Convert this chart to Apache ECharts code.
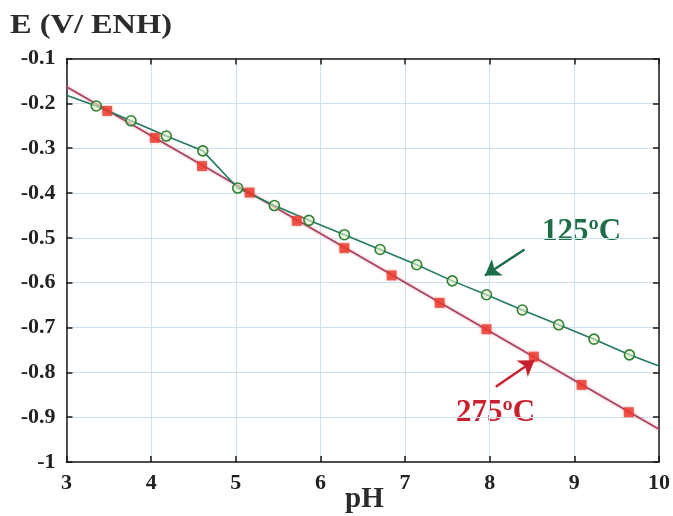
<!DOCTYPE html>
<html>
<head>
<meta charset="utf-8">
<script src="https://cdn.jsdelivr.net/npm/echarts@6/dist/echarts.min.js"></script>
<style>
html,body{margin:0;padding:0;background:#fff;}
#chart{width:673px;height:516px;}
</style>
</head>
<body>
<div id="chart"></div>
<script>
// pH tick labels and E tick range
const xTicks = [3, 4, 5, 6, 7, 8, 9, 10];
const yMin = -1, yMax = -0.1, yStep = 0.1;

// 125ºC series (hollow circles, joined by a line)
const ph125 = [3.352, 3.762, 4.179, 4.610, 5.023, 5.456, 5.864, 6.283, 6.705, 7.138, 7.558, 7.962, 8.385, 8.815, 9.232, 9.651];
const e125  = [-0.206, -0.239, -0.273, -0.306, -0.389, -0.428, -0.461, -0.493, -0.526, -0.560, -0.596, -0.627, -0.661, -0.694, -0.726, -0.761];
// 125ºC line ends at the plot edges
const ph125Ends = [3, 10];
const e125Ends  = [-0.182, -0.786];

// 275ºC series (filled squares) and its straight line
const ph275 = [3.481, 4.043, 4.601, 5.163, 5.721, 6.283, 6.841, 7.408, 7.962, 8.522, 9.085, 9.643];
const e275  = [-0.217, -0.277, -0.340, -0.399, -0.462, -0.523, -0.584, -0.645, -0.704, -0.765, -0.828, -0.889];
const ph275Line = [3, 10];
const e275Line  = [-0.163, -0.927];

// annotation arrows (start -> end, data units)
const arrow125 = [[8.411, -0.526], [7.943, -0.584]];
const arrow275 = [[8.072, -0.832], [8.529, -0.773]];

const label125 = '125ºC';
const label275 = '275ºC';
const yTitle = 'E (V/ ENH)';
const xTitle = 'pH';

const GREEN = '#1d6e48';
const RED = '#c8202e';
const FONT = '"Liberation Serif", "Times New Roman", serif';

const greenLineData = [[ph125Ends[0], e125Ends[0]]]
  .concat(ph125.map((x, i) => [x, e125[i]]))
  .concat([[ph125Ends[1], e125Ends[1]]])
  .map((p, i, arr) => (i === 0 || i === arr.length - 1) ? { value: p, symbol: 'none' } : { value: p });

const redPoints = ph275.map((x, i) => [x, e275[i]]);
const redLine = ph275Line.map((x, i) => [x, e275Line[i]]);

const chart = echarts.init(document.getElementById('chart'), null, { renderer: 'canvas' });

const labelStyle = { color: '#222', fontFamily: FONT, fontWeight: 'bold', fontSize: 22 };
const frame = { show: true, onZero: false, lineStyle: { color: '#1a1a1a', width: 1.5 } };
const gridLine = { show: true, lineStyle: { color: '#cfe1ee', width: 1 } };
const tick = { show: true, inside: true, length: 6, lineStyle: { color: '#1a1a1a', width: 1.5 } };
const yFmt = v => Math.abs(v + 1) < 1e-9 ? '-1' : (Math.round(v * 10) / 10).toFixed(1);

chart.setOption({
  animation: false,
  backgroundColor: '#fff',
  grid: { left: 66.5, right: 8, top: 58.5, bottom: 54 },
  xAxis: [
    { type: 'value', position: 'bottom', min: xTicks[0], max: xTicks[xTicks.length - 1], interval: 1,
      axisLine: frame, axisTick: tick,
      axisLabel: Object.assign({ margin: 10, formatter: v => String(v) }, labelStyle),
      splitLine: gridLine },
    { type: 'value', position: 'top', min: xTicks[0], max: xTicks[xTicks.length - 1], interval: 1,
      axisLine: frame, axisTick: tick,
      axisLabel: { show: false }, splitLine: { show: false } }
  ],
  yAxis: [
    { type: 'value', position: 'left', min: yMin, max: yMax, interval: yStep,
      axisLine: frame, axisTick: tick,
      axisLabel: Object.assign({ margin: 11, formatter: yFmt }, labelStyle),
      splitLine: gridLine },
    { type: 'value', position: 'right', min: yMin, max: yMax, interval: yStep,
      axisLine: frame, axisTick: tick,
      axisLabel: { show: false }, splitLine: { show: false } }
  ],
  series: [
    { name: '125', type: 'line', data: greenLineData, xAxisIndex: 0, yAxisIndex: 0,
      symbol: 'circle', symbolSize: 10, showAllSymbol: true,
      lineStyle: { color: '#1f7a5e', width: 1.6 },
      itemStyle: { color: 'rgba(225,240,200,0.6)', borderColor: '#2f7f35', borderWidth: 1.6 },
      z: 3,
      markLine: { silent: true, symbol: ['none', 'arrow'], symbolSize: 15,
        label: { show: false },
        lineStyle: { color: GREEN, width: 2.5, type: 'solid' },
        data: [[{ coord: arrow125[0] }, { coord: arrow125[1] }]] } },
    { name: '275line', type: 'line', data: redLine, symbol: 'none',
      lineStyle: { color: '#a8405c', width: 1.6, shadowColor: 'rgba(230,120,140,0.7)', shadowBlur: 3 },
      z: 2,
      markLine: { silent: true, symbol: ['none', 'arrow'], symbolSize: 15,
        label: { show: false },
        lineStyle: { color: RED, width: 2.5, type: 'solid' },
        data: [[{ coord: arrow275[0] }, { coord: arrow275[1] }]] } },
    { name: '275', type: 'scatter', data: redPoints, symbol: 'rect', symbolSize: 10,
      itemStyle: { color: '#e8372c', shadowColor: 'rgba(240,90,70,0.6)', shadowBlur: 3 }, z: 4 }
  ],
  graphic: [
    { type: 'text', left: 10, top: 13, scaleX: 1.2, originX: 0,
      style: { text: yTitle, fill: '#2b2b2b', font: 'bold 27px ' + FONT } },
    { type: 'text', left: 345, top: 485,
      style: { text: xTitle, fill: '#2b2b2b', font: 'bold 29px ' + FONT } },
    { type: 'text', left: 542, top: 216,
      style: { text: label125, fill: GREEN, font: 'bold 31px ' + FONT } },
    { type: 'text', left: 456, top: 397,
      style: { text: label275, fill: RED, font: 'bold 31px ' + FONT } }
  ]
});
</script>
</body>
</html>
